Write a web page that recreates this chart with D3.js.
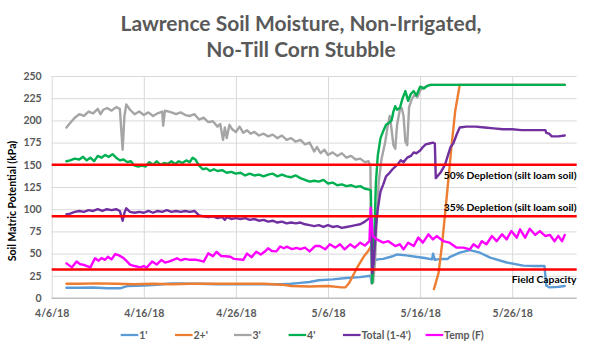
<!DOCTYPE html>
<html><head><meta charset="utf-8">
<script src="https://cdn.jsdelivr.net/npm/d3@7"></script>
<style>
html,body{margin:0;padding:0;background:#fff;}
svg{display:block;font-family:Lato,"Open Sans",sans-serif;}
</style></head>
<body><svg id="c" width="603" height="350"></svg>
<script>
// ---------------- data (day offset from 4/6/18, value) ----------------
const startDate = [2018, 3, 6];
const xTickOffsets = [0, 10, 20, 30, 40, 50];
const yTicks = [0, 25, 50, 75, 100, 125, 150, 175, 200, 225, 250];
const seriesNames = ["1'", "2+'", "3'", "4'", "Total (1-4')", "Temp (F)"];
const refValues = [150, 92, 32];
const refLabels = ["50% Depletion (silt loam soil)", "35% Depletion (silt loam soil)", "Field Capacity"];

const s1 = [[1.6,11.5],[3,11.5],[4.5,11.8],[6,11],[7.5,11],[8.2,13.5],[10,14],[11,14.5],[12,15.5],[13,16.5],[14,16.5],[15,16],[16,16],[18,15.5],[20,15.5],[22,15.5],[24,15.5],[25,15.5],[26,16],[27,17],[28,18],[29,20],[30.5,21],[32,22.5],[33.5,23.5],[34.6,25],[34.75,17],[35.0,42],[35.4,43.5],[36,44],[37,47],[37.5,49],[38.5,48],[39.5,46.5],[40.5,45],[41.3,43.5],[41.4,50],[41.6,43],[42.2,44],[43.0,44],[43.2,46],[44.3,51],[45.4,54],[46.5,51],[47.6,45.5],[49.4,40],[51.2,36.5],[52.5,36],[53.5,36],[53.7,14],[54.0,12],[55.0,12.5],[55.7,13.5]];

const s2 = [[1.6,16],[3,16],[5,16.5],[7,16],[9,15.5],[11,16],[13,15.5],[15,16],[17,16],[19,16],[21,16],[23,16],[25,15],[26,13.5],[28,13],[30,13.5],[31.5,12],[31.9,12],[32.3,17],[32.7,25],[33.1,33],[33.5,40],[33.9,47],[34.3,52],[34.6,57],[34.7,null],[41.5,10],[42.0,28],[42.4,62],[42.9,115],[43.4,170],[43.8,210],[44.3,240],[55.7,240]];

const s3 = [[1.6,192],[2.0,197],[2.5,203],[3.0,207],[3.5,205],[4.0,210],[4.5,208],[5.0,213],[5.3,207],[5.6,212],[6.0,214],[6.5,211],[7.0,215],[7.4,213],[7.7,167],[7.9,205],[8.1,218],[8.5,212],[9.0,207],[9.5,210],[10.0,206],[10.5,209],[11.0,205],[11.5,208],[12.0,210],[12.1,194],[12.3,211],[13,209],[13.5,207],[14,209],[14.5,206],[15,205],[15.5,207],[16,201],[16.5,203],[17,198],[17.5,199],[18,193],[18.3,196],[18.6,178],[18.8,192],[19,180],[19.3,195],[19.6,190],[20,187],[20.4,193],[20.8,186],[21.2,189],[21.6,185],[22,187],[22.5,183],[23,185],[23.5,182],[24,184],[24.5,180],[25,183],[25.5,178],[26,180],[26.5,176],[27,178],[27.5,173],[28,175],[28.5,165],[28.8,170],[29.2,163],[29.6,167],[30,161],[30.5,164],[31,160],[31.5,163],[32,158],[32.5,160],[33,156],[33.5,157],[34,153],[34.4,154],[34.6,148],[34.75,16],[34.9,18],[35.1,40],[35.3,90],[35.5,130],[35.8,156],[36.2,175],[36.5,195],[36.7,205],[36.9,190],[37.1,172],[37.3,168],[37.5,195],[37.8,212],[38.0,214],[38.2,205],[38.4,176],[38.6,172],[38.8,215],[39.1,224],[39.4,229],[39.7,226],[40.0,234],[40.4,237],[40.8,239],[41.1,240],[55.7,240]];

const s4 = [[1.6,154],[2.0,155],[2.5,157],[3.0,156],[3.4,159],[3.8,155],[4.2,158],[4.6,154],[5.0,160],[5.4,158],[5.8,161],[6.2,159],[6.6,162],[7.0,158],[7.4,155],[7.8,156],[8.2,153],[8.6,154],[9.0,149],[9.4,148],[9.8,149],[10.2,148],[10.6,153],[11.0,150],[11.4,154],[11.8,150],[12.2,152],[12.6,151],[13.0,154],[13.4,151],[13.8,154],[14.2,152],[14.6,155],[15.0,153],[15.3,158],[15.6,156],[16.0,149],[16.4,145],[16.8,146],[17.2,143],[17.6,145],[18.0,143],[18.5,144],[19.0,141],[19.5,142],[20.0,140],[20.5,141],[21.0,138],[21.5,140],[22.0,138],[22.5,139],[23.0,137],[23.5,139],[24.0,140],[24.5,137],[25.0,139],[25.5,137],[26.0,136],[26.5,138],[27.0,135],[27.5,133],[28.0,131],[28.5,132],[29.0,131],[29.5,133],[30.0,129],[30.5,130],[31.0,127],[31.5,128],[32.0,126],[32.5,127],[33.0,125],[33.5,126],[34.0,123],[34.5,122],[34.65,121],[34.8,17],[35.0,60],[35.2,130],[35.4,160],[35.7,180],[36.0,188],[36.3,195],[36.6,197],[36.9,200],[37.1,210],[37.3,216],[37.5,212],[37.8,214],[38.1,225],[38.4,233],[38.7,222],[39.0,230],[39.3,233],[39.6,228],[40.0,238],[40.4,236],[40.8,239],[41.1,240],[55.7,240]];

const total = [[1.6,94],[2.0,95],[2.5,97],[3.0,98],[3.5,97],[4.0,99],[4.5,98],[5.0,100],[5.5,98],[6.0,100],[6.5,99],[7.0,100],[7.4,98],[7.7,87],[7.9,96],[8.1,101],[8.5,97],[9.0,96],[9.5,97],[10.0,96],[10.5,98],[11.0,96],[11.5,98],[12.0,97],[12.5,99],[13.0,97],[13.5,98],[14.0,97],[14.5,98],[15.0,97],[15.5,98],[16.0,93],[16.5,92],[17.0,91],[17.5,92],[18.0,90],[18.5,91],[18.8,88],[19.0,91],[19.5,89],[20.0,90],[20.5,89],[21.0,90],[21.5,88],[22.0,89],[22.5,87],[23.0,88],[23.5,86],[24.0,87],[24.5,85],[25.0,86],[25.5,84],[26.0,85],[26.5,84],[27.0,85],[27.5,83],[28.0,82],[28.5,81],[29.0,82],[29.5,80],[30.0,82],[30.5,80],[31.0,81],[31.5,79],[32.0,80],[32.5,81],[33.0,82],[33.5,83],[34.0,86],[34.5,90],[34.7,91],[34.8,28],[35.0,45],[35.2,80],[35.4,100],[35.7,120],[36.0,128],[36.3,137],[36.6,140],[37.0,145],[37.3,148],[37.6,151],[37.9,155],[38.2,153],[38.6,158],[39.0,160],[39.3,164],[39.6,163],[40.0,166],[40.3,170],[40.6,173],[41.0,174],[41.4,175],[41.6,174],[41.7,135],[42.2,141],[42.7,150],[43.0,160],[43.3,170],[43.6,174],[44.0,185],[44.3,192],[45.0,193],[46.0,193],[47.0,192],[48.0,191],[49.0,190],[50.0,190],[51.0,189],[52.0,189],[53.0,189],[53.6,189],[53.7,186],[54.0,185],[54.3,182],[55.0,182],[55.7,183]];

const temp = [[1.6,39],[2.2,34.5],[2.7,41],[3.1,38],[3.4,37.6],[4.2,34.5],[4.7,44.7],[5.1,42],[5.4,45],[5.8,43],[6.1,46.5],[6.5,43.5],[6.9,49.5],[7.3,48],[7.8,45],[8.2,41],[8.5,37.6],[9.0,36],[9.6,34.5],[10.0,36],[10.3,34],[10.9,41],[11.4,37.6],[11.9,42.8],[12.3,40],[12.7,41],[13.2,43],[13.6,44.7],[14.0,42.5],[14.5,44],[15.0,43],[15.7,43],[16.1,42],[16.5,41],[17.0,50.3],[17.5,47],[17.9,52],[18.4,47.3],[18.9,47],[19.4,46.5],[19.8,44],[20.3,43.5],[20.8,43],[21.2,50],[21.7,46],[22.2,52],[22.7,49],[23.1,52],[23.5,56],[23.9,53],[24.4,52.5],[24.8,58],[25.2,56],[25.5,57.8],[26.1,55],[26.6,56.5],[27.0,55],[27.5,56.7],[28.0,52.5],[28.6,58.5],[29.1,58.5],[29.7,54.8],[30.2,60.5],[30.8,56.7],[31.3,60.5],[31.8,54.8],[32.4,60.5],[32.9,56.7],[33.5,62.3],[34.0,59],[34.5,64],[34.63,101.7],[34.85,69.8],[35.3,66],[36.0,62.3],[36.55,64],[37.3,58.5],[37.8,60.5],[38.2,54.8],[38.7,62.3],[39.3,58.5],[39.8,68],[40.3,62.3],[40.9,71.7],[41.4,66],[41.8,69.8],[42.5,64],[43.2,62.3],[43.97,56.7],[44.7,56.7],[45.4,54.8],[45.8,60.5],[46.3,56.7],[46.7,64],[47.2,60.5],[47.8,69.8],[48.3,64],[48.9,71.7],[49.4,66],[49.9,75.4],[50.5,68],[50.85,77.3],[51.4,68],[51.9,78],[52.5,71],[53.0,75.4],[53.6,69.8],[54.1,71],[54.6,64],[55.0,70],[55.4,64],[55.7,71]];

// ---------------- chart ----------------
const colors = ["#5B9BD5", "#ED7D31", "#A5A5A5", "#00B050", "#7030A0", "#FF00FF"];
const seriesData = [s1, s2, s3, s4, total, temp];

const START = new Date(startDate[0], startDate[1], startDate[2]);
const toDate = d => new Date(START.getTime() + d * 864e5);

const L = 51.7, R = 576.7, T = 76, B = 298;
const svg = d3.select("#c");

const x = d3.scaleTime().domain([START, toDate(57)]).range([L, R]);
const y = d3.scaleLinear().domain([0, 250]).range([B, T]);

// title
const title = svg.append("text").attr("x", 301).attr("text-anchor", "middle")
  .attr("fill", "#595959").attr("font-weight", "bold").attr("font-size", 21);
title.append("tspan").attr("x", 301).attr("y", 31).text("Lawrence Soil Moisture, Non-Irrigated,");
title.append("tspan").attr("x", 301).attr("y", 57).text("No-Till Corn Stubble");

// grid
const yAxis = d3.axisLeft(y).tickValues(yTicks).tickSize(-(R - L)).tickFormat(d3.format("d"));
const gy = svg.append("g").attr("transform", `translate(${L},0)`).call(yAxis);
gy.select(".domain").remove();
gy.selectAll(".tick line").attr("stroke-width", 1)
  .attr("stroke", d => d === 0 ? "#BFBFBF" : "#D9D9D9");
gy.selectAll(".tick text").attr("x", -10).attr("fill", "#595959")
  .attr("font-weight", "bold").attr("font-size", 10.5).attr("font-family", "Lato,'Open Sans',sans-serif");

const xAxis = d3.axisBottom(x).tickValues(xTickOffsets.map(toDate))
  .tickSize(-(B - T)).tickFormat(d3.timeFormat("%-m/%-d/%y"));
const gx = svg.append("g").attr("transform", `translate(0,${B})`).call(xAxis);
gx.select(".domain").remove();
gx.selectAll(".tick line").attr("stroke", "#D9D9D9").attr("stroke-width", 1);
gx.selectAll(".tick text").attr("y", 12).attr("fill", "#595959")
  .attr("font-weight", "bold").attr("font-size", 10.5).attr("font-family", "Lato,'Open Sans',sans-serif");

// bottom baseline
svg.append("line").attr("x1", L).attr("x2", R).attr("y1", y(0)).attr("y2", y(0))
  .attr("stroke", "#BFBFBF").attr("stroke-width", 1);

// y axis title
svg.append("text").attr("transform", `translate(15.5,${(T + B) / 2 + 14}) rotate(-90)`)
  .attr("text-anchor", "middle").attr("font-weight", "bold").attr("font-size", 10.5)
  .attr("fill", "#000").text("Soil Matric Potential (kPa)");

// series
const line = d3.line().defined(d => d[1] != null)
  .x(d => x(toDate(d[0]))).y(d => y(d[1]));
seriesData.forEach((data, i) => {
  svg.append("path").datum(data).attr("d", line).attr("fill", "none")
    .attr("stroke", colors[i]).attr("stroke-width", 2.4)
    .attr("stroke-linejoin", "round").attr("stroke-linecap", "round");
});

// reference lines
refValues.forEach(v => {
  svg.append("line").attr("x1", L).attr("x2", R).attr("y1", y(v)).attr("y2", y(v))
    .attr("stroke", "#FF0000").attr("stroke-width", 2.5);
});
const refLabelY = [179, 211, 283];
refLabels.forEach((t, i) => {
  svg.append("text").attr("x", 576.5).attr("y", refLabelY[i]).attr("text-anchor", "end")
    .attr("font-weight", "bold").attr("font-size", 10.3).attr("fill", "#000").text(t);
});

// legend
const legX = [120.7, 175, 234, 288.6, 343, 425.6];
const leg = svg.append("g");
seriesNames.forEach((n, i) => {
  leg.append("line").attr("x1", legX[i]).attr("x2", legX[i] + 17.6)
    .attr("y1", 335).attr("y2", 335).attr("stroke", colors[i]).attr("stroke-width", 2.25);
  leg.append("text").attr("x", legX[i] + 18.5).attr("y", 338.8)
    .attr("font-weight", "bold").attr("font-size", 10.5).attr("fill", "#595959").text(n);
});
</script>
</body></html>
